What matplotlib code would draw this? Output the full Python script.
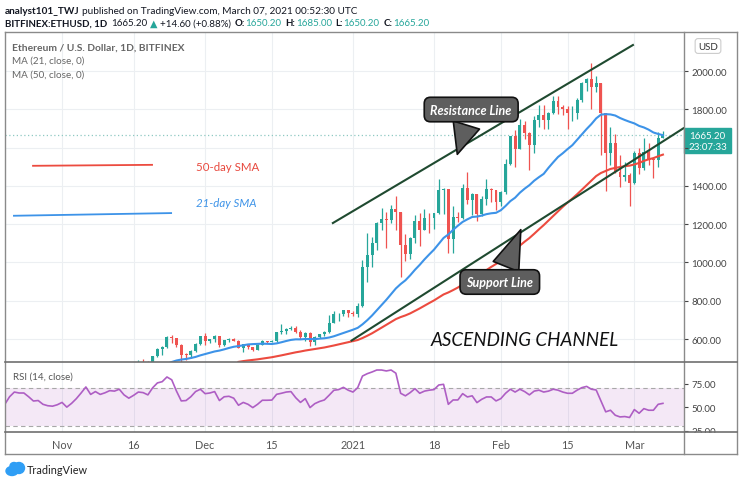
import matplotlib
matplotlib.use("Agg")
import matplotlib.dates as mdates
import matplotlib.pyplot as plt
import pandas as pd
from matplotlib.lines import Line2D
from matplotlib.patches import Ellipse, Rectangle

plt.rcParams["font.family"] = ["Lato", "DejaVu Sans"]

W, H = 740, 485
UP = "#26a69a"
DOWN = "#ef5350"

# daily candles BITFINEX:ETHUSD, Oct 20 2020 .. Mar 7 2021
dates = pd.date_range("2020-10-20", "2021-03-07", freq="D")
opens = [
    369, 368, 392, 414, 409, 412, 406, 393, 404, 388, 386, 383,
    386, 396, 383, 387, 402, 415, 454, 435, 453, 444, 449, 462, 462, 475, 460,
    448, 460, 480, 479, 471, 509, 549, 560, 608, 603, 570, 518, 517, 538, 575,
    615, 588, 598, 616, 569, 596, 601, 591, 554, 573, 559, 545, 568, 590, 586,
    589, 636, 642, 654, 658, 638, 609, 634, 583, 611, 626, 635, 683, 730, 731, 751,
    737, 730, 774, 975, 1041, 1100, 1208, 1225, 1224, 1281, 1262, 1090, 1043,
    1130, 1218, 1171, 1233, 1230, 1257, 1377, 1382, 1121, 1236, 1231, 1391, 1324,
    1357, 1253, 1332, 1382, 1376,
    1314, 1369, 1515, 1660, 1594, 1718, 1677, 1614, 1746, 1768, 1744, 1783, 1843,
    1814, 1800, 1780, 1781, 1848, 1938, 1960, 1919, 1935, 1781, 1571, 1626, 1475,
    1446, 1459,
    1417, 1570, 1493, 1575, 1541, 1533, 1650.2,
]
highs = [
    372, 417, 418, 415, 415, 416, 407, 408, 410, 398, 387, 395,
    400, 405, 389, 406, 419, 458, 463, 456, 459, 454, 468, 469, 477, 475, 463,
    465, 488, 497, 486, 510, 553, 562, 615, 621, 607, 575, 527, 544, 577, 617,
    630, 600, 619, 618, 597, 603, 607, 594, 576, 576, 560, 572, 597, 592, 594,
    639, 676, 657, 667, 666, 647, 636, 636, 614, 628, 640, 723, 744, 737, 754, 754,
    749, 787, 1011, 1154, 1132, 1209, 1282, 1263, 1299, 1348, 1262, 1147, 1135,
    1246, 1260, 1278, 1260, 1258, 1436, 1390, 1383, 1293, 1265, 1411, 1470, 1363,
    1357, 1346, 1435, 1391, 1381,
    1375, 1540, 1662, 1693, 1752, 1738, 1680, 1765, 1823, 1825, 1786, 1872, 1872,
    1825, 1820, 1817, 1860, 1945, 1964, 2042, 1975, 1938, 1781, 1710, 1670, 1559,
    1525, 1469,
    1580, 1600, 1650, 1622, 1546, 1679, 1685,
]
lows = [
    360, 365, 387, 401, 407, 403, 385, 390, 380, 375, 370, 376,
    384, 376, 371, 378, 398, 412, 428, 432, 435, 441, 448, 453, 457, 451, 441,
    444, 453, 467, 465, 470, 506, 518, 553, 578, 559, 480, 490, 503, 533, 570,
    569, 577, 587, 560, 561, 587, 588, 553, 531, 550, 537, 544, 567, 578, 582,
    586, 628, 626, 649, 633, 599, 592, 566, 570, 605, 616, 629, 683, 694, 721, 715,
    719, 714, 768, 900, 977, 1064, 1168, 1076, 1208, 1172, 922, 1006, 1020,
    1100, 1084, 1169, 1155, 1176, 1254, 1251, 1052, 1049, 1214, 1229, 1307, 1246,
    1216, 1244, 1302, 1317, 1275,
    1296, 1358, 1508, 1501, 1593, 1644, 1484, 1570, 1708, 1695, 1695, 1775, 1777,
    1772, 1695, 1741, 1748, 1840, 1896, 1800, 1892, 1560, 1371, 1511, 1465, 1394,
    1426, 1293,
    1410, 1460, 1482, 1511, 1442, 1500, 1650.2,
]
closes = [
    368, 392, 414, 409, 412, 406, 393, 404, 388, 386, 383, 386,
    396, 383, 387, 402, 415, 454, 435, 453, 444, 449, 462, 462, 475, 460, 448,
    460, 480, 479, 471, 509, 549, 560, 608, 603, 570, 518, 517, 538, 575, 615,
    588, 598, 616, 569, 596, 601, 591, 554, 573, 559, 545, 568, 590, 586, 589,
    636, 642, 654, 658, 638, 609, 634, 583, 611, 626, 635, 683, 730, 731, 751, 737,
    730, 774, 975, 1041, 1100, 1208, 1225, 1224, 1281, 1262, 1090, 1043, 1130,
    1218, 1171, 1233, 1230, 1257, 1377, 1382, 1121, 1236, 1231, 1391, 1324, 1357,
    1253, 1332, 1382, 1376, 1314,
    1369, 1515, 1660, 1594, 1718, 1677, 1614, 1746, 1768, 1744, 1783, 1843, 1814,
    1800, 1780, 1781, 1848, 1938, 1960, 1919, 1935, 1781, 1571, 1626, 1475, 1446,
    1459, 1417,
    1570, 1493, 1575, 1541, 1533, 1650, 1665.2,
]
rsi_values = [
    53, 61, 66, 65, 65, 61, 56.5, 57, 53, 51.5, 51, 52.5,
    55, 50, 54, 59, 65, 71.4, 63.5, 66.5, 63.5, 65.2, 67.5, 67, 69, 63, 59.5,
    62.5, 66, 65.4, 63, 70.5, 75.7, 77, 82, 79, 67, 56.6, 57, 61, 66.5, 69,
    64.3, 65, 66.5, 57, 61, 61.5, 59.5, 52, 55, 53, 49.5, 53, 57.3, 57.3, 57.5,
    63.6, 64.7, 66, 66.5, 60, 55, 59, 49.5, 53.7, 56, 57.6, 62.6, 67.9, 68.6, 71, 68,
    66, 70.7, 83, 85.5, 87.3, 89.4, 89.4, 88.4, 89.4, 86, 64.7, 62, 65.4, 69.6,
    64.7, 67, 68, 68.6, 73.5, 74.2, 53, 57.6, 57.6, 64.3, 60.8, 62, 54.8, 58.3,
    60.8, 60.8, 56.6,
    59, 64.7, 69, 66, 69, 66.5, 63, 67, 68, 66, 67, 69, 68, 66, 64.7, 64.7, 68,
    70.7, 72, 69, 68.2, 56.6, 45, 46.7, 41.4, 39.6, 40, 39,
    47.4, 43.5, 48.4, 46.7, 46.7, 53, 54,
]

price_ticks = [600, 800, 1000, 1200, 1400, 1600, 1800, 2000]
date_ticks = ["2020-11-01", "2020-11-16", "2020-12-01", "2020-12-15", "2021-01-01",
              "2021-01-18", "2021-02-01", "2021-02-15", "2021-03-01"]
date_labels = ["Nov", "16", "Dec", "15", "2021", "18", "Feb", "15", "Mar"]

# hand drawn channel
resistance_dates = ["2020-12-27 19:00", "2021-02-28 17:00"]
resistance = [1206, 2136]
support_dates = ["2020-12-31 17:00", "2021-03-11 07:00"]
support = [592, 1701]

last_price = 1665.2


def fx(px):
    return px / W


def fy(py):
    return 1 - py / H


def dn(s):
    return mdates.date2num(pd.Timestamp(s))


x = mdates.date2num(dates)
close_s = pd.Series(closes)
ma21 = close_s.rolling(21).mean()
ma50 = close_s.rolling(50).mean()

fig = plt.figure(figsize=(W / 100, H / 100), dpi=100)
ax = fig.add_axes([fx(5), fy(363), (684 - 5) / W, (363 - 33) / H])
rsi_ax = fig.add_axes([fx(5), fy(433), (684 - 5) / W, (433 - 363) / H], sharex=ax)

grid_c = "#eceff2"
for a in (ax, rsi_ax):
    for s in a.spines.values():
        s.set_visible(False)
    for d in date_ticks:
        a.axvline(dn(d), color=grid_c, lw=0.8, zorder=0)
for p in price_ticks:
    ax.axhline(p, color=grid_c, lw=0.8, zorder=0)

# candles
for xi, o, h, l, c in zip(x, opens, highs, lows, closes):
    col = UP if c >= o else DOWN
    ax.vlines(xi, l, h, color=col, lw=0.9, zorder=2)
    ax.bar(xi, max(abs(c - o), 3), bottom=min(o, c), width=0.62, color=col, zorder=3)

ax.plot(x, ma21, color="#3d93e8", lw=1.5, zorder=4)
ax.plot(x, ma50, color="#ec4b3f", lw=1.5, zorder=4)
ax.axhline(last_price, color="#8fc9c2", lw=0.9, ls=(0, (1, 2)), zorder=1)

ax.plot([dn(d) for d in resistance_dates], resistance, color="#1f4a30", lw=1.5, zorder=5)
ax.plot([dn(d) for d in support_dates], support, color="#1f4a30", lw=1.5, zorder=5)

# SMA hand legend
ax.plot([dn("2020-10-25 22:00"), dn("2020-11-19 21:00")], [1505, 1510], color="#ec4b3f", lw=1.3)
ax.plot([dn("2020-10-21 22:00"), dn("2020-11-23 21:00")], [1244, 1258], color="#3d93e8", lw=1.3)
ax.text(dn("2020-11-29 02:00"), 1499, "50-day SMA", color="#e8493e", fontsize=8.3, va="center")
ax.text(dn("2020-11-29 02:00"), 1311, "21-day SMA", color="#3d93e8", fontsize=8.3,
        style="italic", va="center")

# callouts
callout = dict(boxstyle="round,pad=0.5,rounding_size=0.5", fc="#5e5e5e", ec="#111111", lw=1.2)
pointer = dict(arrowstyle="wedge,tail_width=2.2,shrink_factor=0.5",
               fc="#5e5e5e", ec="#111111", lw=1.2)
ax.annotate("Resistance Line", xy=(dn("2021-01-22 17:00"), 1551),
            xytext=(dn("2021-01-25 19:00"), 1799), color="white", fontsize=9,
            fontweight="bold", style="italic", ha="center", va="center", bbox=callout,
            arrowprops=pointer, zorder=6)
ax.annotate("Support Line", xy=(dn("2021-02-05 10:00"), 1185),
            xytext=(dn("2021-01-31 19:00"), 898), color="white", fontsize=9,
            fontweight="bold", style="italic", ha="center", va="center", bbox=callout,
            arrowprops=pointer, zorder=6)
ax.text(dn("2021-02-06 02:00"), 595, "ASCENDING CHANNEL", fontsize=13.5, style="italic",
        color="#111111", ha="center", va="center")

ax.set_ylim(480, 2204)
ax.set_xlim(dn("2020-10-20 01:00"), dn("2021-03-11 10:00"))
ax.yaxis.tick_right()
ax.set_yticks(price_ticks)
# the 1600 label sits under the last price tag
ax.set_yticklabels(["" if p == 1600 else f"{p:.2f}" for p in price_ticks])
ax.tick_params(axis="y", length=3, pad=2.5, labelsize=7, colors="#444444")
ax.tick_params(axis="x", length=0, labelbottom=False)

# current price tag
tag = ax.get_yaxis_transform()
ax.add_patch(Rectangle((1.0, 1572), 47 / 679, 130, transform=tag, color=UP, clip_on=False))
ax.text(1.0 + 23.5 / 679, 1662, f"{last_price:.2f}", transform=tag, color="white",
        fontsize=7, ha="center", va="center", clip_on=False)
ax.text(1.0 + 23.5 / 679, 1604, "23:07:33", transform=tag, color="white",
        fontsize=7, ha="center", va="center", clip_on=False)

# RSI panel
rsi_ax.axhspan(30, 70, color="#9c27b0", alpha=0.1, lw=0, zorder=0)
rsi_ax.axhline(70, color="#a8a8a8", lw=0.8, ls=(0, (4, 3)))
rsi_ax.axhline(30, color="#a8a8a8", lw=0.8, ls=(0, (4, 3)))
rsi_ax.plot(x, rsi_values, color="#ae5ec4", lw=1.2, zorder=3)
rsi_ax.set_ylim(23.6, 97.9)
rsi_ax.yaxis.tick_right()
rsi_ax.set_yticks([25, 50, 75])
rsi_ax.set_yticklabels(["25.00", "50.00", "75.00"])
rsi_ax.tick_params(axis="y", length=3, pad=2.5, labelsize=7, colors="#444444")
rsi_ax.set_xticks([dn(d) for d in date_ticks])
rsi_ax.set_xticklabels(date_labels)
rsi_ax.tick_params(axis="x", length=0, pad=5, labelsize=7.8, colors="#555555")
rsi_ax.text(8 / 679, 1 - 14 / 70, "RSI (14, close)", transform=rsi_ax.transAxes,
            fontsize=7, color="#555555", va="center")

# pane legend
ax.text(7 / 679, 1 - 15 / 330, "Ethereum / U.S. Dollar, 1D, BITFINEX", transform=ax.transAxes,
        fontsize=7.4, fontweight="bold", color="#666666", va="center")
ax.text(7 / 679, 1 - 28 / 330, "MA (21, close, 0)", transform=ax.transAxes,
        fontsize=7.1, color="#666666", va="center")
ax.text(7 / 679, 1 - 42 / 330, "MA (50, close, 0)", transform=ax.transAxes,
        fontsize=7.1, color="#666666", va="center")

# mask the lower half of the 25.00 label like the chart does
fig.add_artist(Rectangle((fx(685), fy(454)), 51 / W, 20.5 / H, color="white",
                         transform=fig.transFigure, zorder=1))

# frame lines
frame_c = "#8a8a8a"
for xs, ys in [([5, 737], [33, 33]), ([5, 737], [455, 455]), ([5, 5], [33, 455]),
               ([737, 737], [33, 455]), ([684, 684], [33, 455])]:
    fig.add_artist(Line2D([fx(v) for v in xs], [fy(v) for v in ys], color=frame_c, lw=1, zorder=3))
for yy in (363, 433):
    fig.add_artist(Line2D([fx(5), fx(737)], [fy(yy), fy(yy)], color="#6f6f6f", lw=1.2, zorder=3))

fig.text(fx(708), fy(47), "USD", fontsize=7, color="#333333", ha="center", va="center",
         bbox=dict(boxstyle="round,pad=0.3", fc="white", ec="#cccccc", lw=0.8))


def put_runs(y, runs, size, end_px, x0=5):
    """draw mixed style runs on one line, scaled so the line ends at end_px"""
    renderer = fig.canvas.get_renderer()

    def draw(sz, k):
        xp, made = x0, []
        for text, weight, color, gap in runs:
            t = fig.text(fx(xp), fy(y), text, fontsize=sz, fontweight=weight, color=color,
                         ha="left", va="center")
            made.append(t)
            xp = t.get_window_extent(renderer).x1 + gap * k
        return made, xp

    made, end = draw(size, 1)
    k = (end_px - x0) / (end - x0)
    for t in made:
        t.remove()
    draw(size * k, k)


dark = "#131722"
put_runs(11, [("analyst101_TWJ", "bold", dark, 3),
              ("published on TradingView.com, March 07, 2021 00:52:30 UTC", "normal", dark, 0)],
         8, 358)
put_runs(24, [("BITFINEX:ETHUSD, 1D", "bold", dark, 4),
              ("1665.20", "normal", dark, 3), ("▲", "normal", UP, 3),
              ("+14.60 (+0.88%)", "normal", dark, 4),
              ("O:", "bold", dark, 1), ("1650.20", "normal", UP, 4),
              ("H:", "bold", dark, 1), ("1685.00", "normal", UP, 4),
              ("L:", "bold", dark, 1), ("1650.20", "normal", UP, 4),
              ("C:", "bold", dark, 1), ("1665.20", "normal", UP, 0)], 8, 432)

# TradingView logo
for cx, cy, w, h in [(12, 472, 12, 9), (19, 469, 11, 11), (14, 467, 8, 7)]:
    fig.add_artist(Ellipse((fx(cx), fy(cy)), w / W, h / H, color="#2f9ef5", transform=fig.transFigure))
fig.text(fx(27), fy(471), "TradingView", fontsize=7.8, color="#222222", va="center")

fig.savefig("out.png", dpi=100, facecolor="white")
